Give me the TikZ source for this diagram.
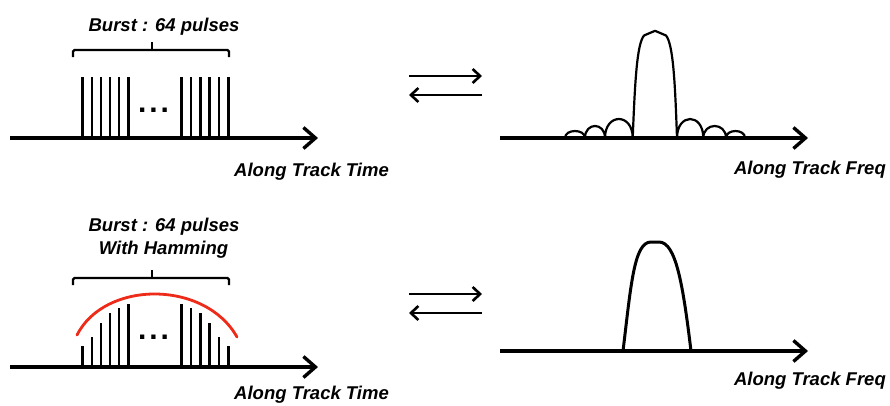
\documentclass[tikz,border=0pt]{standalone}
\usepackage{fontspec}
\setmainfont{Liberation Sans}
\usetikzlibrary{arrows.meta}
\definecolor{hamred}{RGB}{238,42,24}
\tikzset{
  axis/.style={line width=3.6pt, -{Straight Barb[length=12pt,width=21pt,line width=3.4pt]}},
  swap/.style={line width=2.6pt, -{Straight Barb[length=7.5pt,width=14pt,line width=2.6pt]}},
  pulse/.style={line width=2.6pt},
  lobe/.style={line width=2.2pt, line join=round},
  mainlobe/.style={line width=3pt, line join=round},
  bracket/.style={line width=2.3pt, rounded corners=1.5pt},
  lbl/.style={font=\fontsize{18.5}{22}\selectfont\bfseries\itshape, inner sep=0pt},
  dots/.style={font=\fontsize{30}{32}\selectfont\bfseries, inner sep=0pt}
}
\begin{document}
\begin{tikzpicture}[x=1pt,y=-1pt]
\useasboundingbox (0,0) rectangle (890,405);

% ---------- top left: uniform burst ----------
\coordinate (tlA) at (10,138);
\coordinate (tlB) at (318,138);
\draw[axis] (tlA) -- (tlB);
\foreach \x in {82.7,91.8,100.9,110,119.1,128.2,181.7,191,200.3,209.6,218.9,228.2}
  \draw[pulse] (\x,138) -- (\x,76.5);
\node[dots] (tldots) at (153.5,110) {.\hspace{3pt}.\hspace{3pt}.};
\draw[bracket] (73,57) -- (73,50) -- (229,50) -- (229,57);
\draw[bracket] (152,50) -- (152,42);
\node[lbl, anchor=base] (tlburst) at (164,31) {Burst : 64 pulses};
\node[lbl, anchor=base east] (tltime) at (389,176) {Along Track Time};

% ---------- top right: spectrum with side lobes ----------
\coordinate (trA) at (500,138);
\coordinate (trB) at (808,138);
\draw[axis] (trA) -- (trB);
\draw[lobe]
  (565,138) .. controls (565,128.7) and (585,128.7) .. (585,138)
            .. controls (585,122) and (605,122) .. (605,138)
            .. controls (605,112.7) and (632.7,112.7) .. (632.7,138)
            .. controls (635,80) and (637,44) .. (644,35.5)
            -- (655,30.8) -- (666,35.5)
            .. controls (673,44) and (675,80) .. (677,138)
            .. controls (677,112.7) and (703.3,112.7) .. (703.3,138)
            .. controls (703.3,122) and (726,122) .. (726,138)
            .. controls (726,128.7) and (745,128.7) .. (745,138);

% ---------- bottom left: burst with Hamming weighting ----------
\coordinate (blA) at (10,367);
\coordinate (blB) at (318,367);
\draw[axis] (blA) -- (blB);
\foreach \x/\t in {82.7/345.7,91.8/336.7,100.9/322.7,110/313.3,119.1/308.3,128.2/304.3,
                   181.7/304.3,191/308.3,200.3/313.3,209.6/322.7,218.9/336.7,228.2/345.7}
  \draw[pulse] (\x,367) -- (\x,\t);
\node[dots] (bldots) at (153.5,337) {.\hspace{3pt}.\hspace{3pt}.};
\draw[hamred, line width=2.8pt, line cap=round]
  (77,335) .. controls (105,280) and (205,280) .. (237,337);
\draw[bracket] (73,285) -- (73,278) -- (229,278) -- (229,285);
\draw[bracket] (152,278) -- (152,269.5);
\node[lbl, anchor=base] (blburst) at (164,231.5) {Burst : 64 pulses};
\node[lbl, anchor=base] (blhamming) at (163.5,254.5) {With Hamming};
\node[lbl, anchor=base east] (bltime) at (389,399.5) {Along Track Time};

% ---------- bottom right: weighted spectrum ----------
\coordinate (brA) at (500,351);
\coordinate (brB) at (808,351);
\draw[axis] (brA) -- (brB);
\draw[mainlobe]
  (623,351) .. controls (631,285) and (634,242) .. (651,242)
  -- (659,242) .. controls (676,242) and (683,285) .. (691,351);

% ---------- frequency axis labels ----------
\node[lbl, anchor=base east] (trfreq) at (886,174) {Along Track Freq};
\node[lbl, anchor=base east] (brfreq) at (886,385) {Along Track Freq};

% ---------- transform pair arrows ----------
\coordinate (tfa) at (409,76);
\coordinate (tfb) at (482,76);
\coordinate (tia) at (482,95);
\coordinate (tib) at (409,95);
\draw[swap] (tfa) -- (tfb);
\draw[swap] (tia) -- (tib);
\coordinate (bfa) at (409,294);
\coordinate (bfb) at (482,294);
\coordinate (bia) at (482,313);
\coordinate (bib) at (409,313);
\draw[swap] (bfa) -- (bfb);
\draw[swap] (bia) -- (bib);
\end{tikzpicture}
\end{document}
